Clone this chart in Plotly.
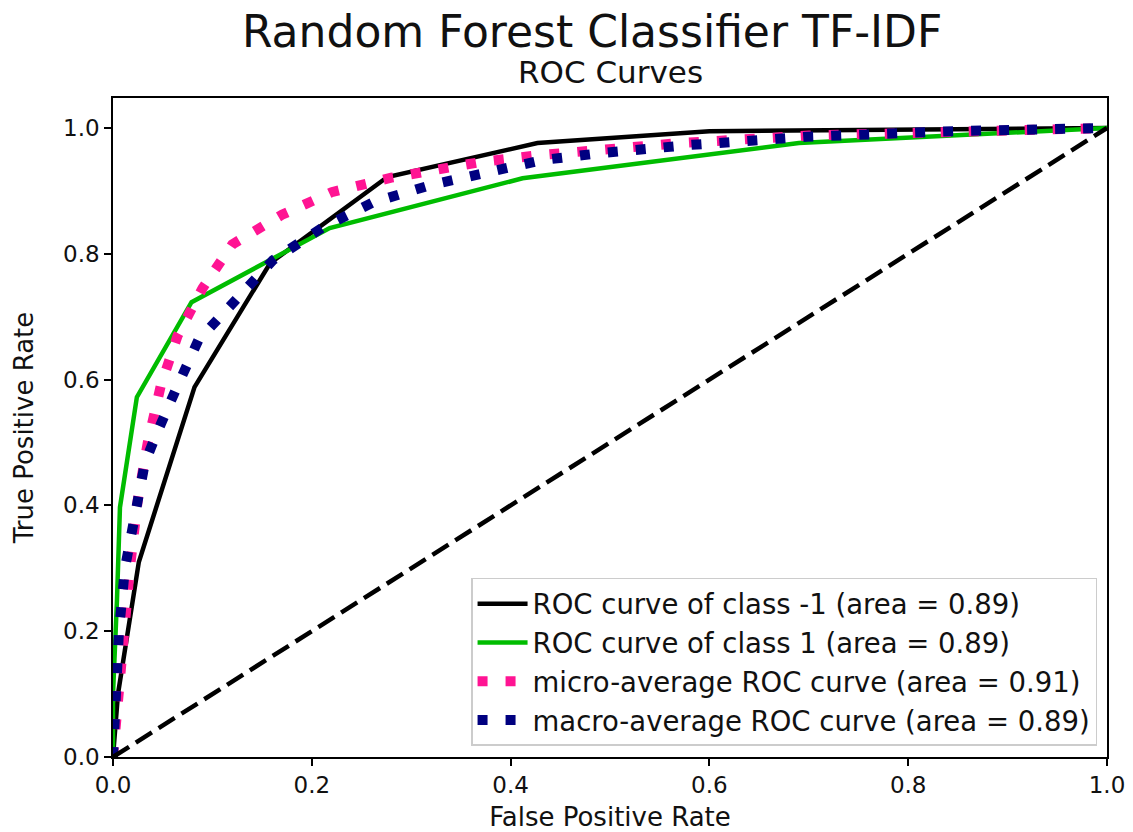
import plotly.graph_objects as go

# ROC curve vertices (false positive rate, true positive rate)
fpr_neg = [0.0, 0.005, 0.026, 0.082, 0.158, 0.276, 0.427, 0.6, 1.0]
tpr_neg = [0.0, 0.10, 0.31, 0.588, 0.785, 0.922, 0.976, 0.995, 1.0]

fpr_pos = [0.0, 0.0, 0.004, 0.007, 0.024, 0.079, 0.218, 0.412, 0.69, 1.0]
tpr_pos = [0.0, 0.10, 0.25, 0.397, 0.572, 0.723, 0.841, 0.92, 0.976, 1.0]

fpr_micro = [0.0, 0.005, 0.01, 0.017, 0.025, 0.035, 0.048, 0.065, 0.09, 0.12,
             0.17, 0.22, 0.28, 0.37, 0.43, 0.57, 0.7, 1.0]
tpr_micro = [0.0, 0.10, 0.20, 0.30, 0.41, 0.50, 0.59, 0.67, 0.745, 0.815,
             0.862, 0.898, 0.921, 0.946, 0.957, 0.976, 0.988, 1.0]

fpr_macro = [0.0, 0.003, 0.006, 0.012, 0.022, 0.032, 0.042, 0.052, 0.064, 0.086,
             0.124, 0.161, 0.21, 0.262, 0.319, 0.374, 0.432, 0.49, 0.58, 0.698,
             0.845, 1.0]
tpr_macro = [0.0, 0.10, 0.20, 0.30, 0.385, 0.467, 0.507, 0.547, 0.587, 0.663,
             0.727, 0.79, 0.841, 0.882, 0.909, 0.93, 0.949, 0.96, 0.973, 0.986,
             0.995, 1.0]

chance = [0.0, 1.0]

labels = [
    "ROC curve of class -1 (area = 0.89)",
    "ROC curve of class 1 (area = 0.89)",
    "micro-average ROC curve (area = 0.91)",
    "macro-average ROC curve (area = 0.89)",
]
tick_vals = [0.0, 0.2, 0.4, 0.6, 0.8, 1.0]
tick_text = ["0.0", "0.2", "0.4", "0.6", "0.8", "1.0"]

FONT = "DejaVu Sans"
INK = "#111111"

fig = go.Figure()
fig.add_trace(go.Scatter(x=fpr_neg, y=tpr_neg, mode="lines", name=labels[0],
                         legendgroup="a",
                         line=dict(color="black", width=4.5)))
fig.add_trace(go.Scatter(x=fpr_pos, y=tpr_pos, mode="lines", name=labels[1],
                         legendgroup="b",
                         line=dict(color="#00bc00", width=4.5)))
fig.add_trace(go.Scatter(x=fpr_micro, y=tpr_micro, mode="lines", name=labels[2],
                         legendgroup="c",
                         line=dict(color="deeppink", width=10, dash="10px,18px")))
fig.add_trace(go.Scatter(x=fpr_macro, y=tpr_macro, mode="lines", name=labels[3],
                         legendgroup="d",
                         line=dict(color="navy", width=10, dash="10px,18px")))
fig.add_trace(go.Scatter(x=chance, y=chance, mode="lines", showlegend=False,
                         line=dict(color="black", width=4.5, dash="19px,8px")))

axis_common = dict(
    showgrid=False, zeroline=False, showline=True, mirror=True,
    linecolor="black", linewidth=1.5, ticks="outside", ticklen=7,
    tickwidth=1.5, tickcolor="black", automargin=False,
    tickvals=tick_vals, ticktext=tick_text,
    tickfont=dict(family=FONT, size=23, color=INK),
)

fig.update_layout(
    width=1133, height=832,
    margin=dict(l=113, r=26, t=98, b=75),
    paper_bgcolor="white", plot_bgcolor="white",
    font=dict(family=FONT, color=INK),
    showlegend=True,
    legend=dict(
        x=0.99, y=0.017, xanchor="right", yanchor="bottom",
        bgcolor="rgba(255,255,255,0.85)", bordercolor="#cccccc", borderwidth=1.5,
        font=dict(family=FONT, size=27.5, color=INK),
        tracegroupgap=0, traceorder="grouped", itemwidth=50,
    ),
    xaxis=dict(range=[0, 1.0], **axis_common,
               title=dict(text="False Positive Rate", standoff=14,
                          font=dict(family=FONT, size=26, color=INK))),
    yaxis=dict(range=[0, 1.0477], **axis_common,
               title=dict(text="True Positive Rate", standoff=22,
                          font=dict(family=FONT, size=26, color=INK))),
    annotations=[
        dict(text="Random Forest Classifier TF-IDF", xref="paper", yref="paper",
             x=(592 - 113) / 994, y=(757 - 32) / 659,
             showarrow=False, font=dict(family=FONT, size=44, color=INK),
             xanchor="center", yanchor="middle"),
        dict(text="ROC Curves", xref="paper", yref="paper",
             x=0.5, y=(757 - 72) / 659, showarrow=False,
             font=dict(family=FONT, size=31, color=INK),
             xanchor="center", yanchor="middle"),
    ],
)

fig.write_html("out.html")
